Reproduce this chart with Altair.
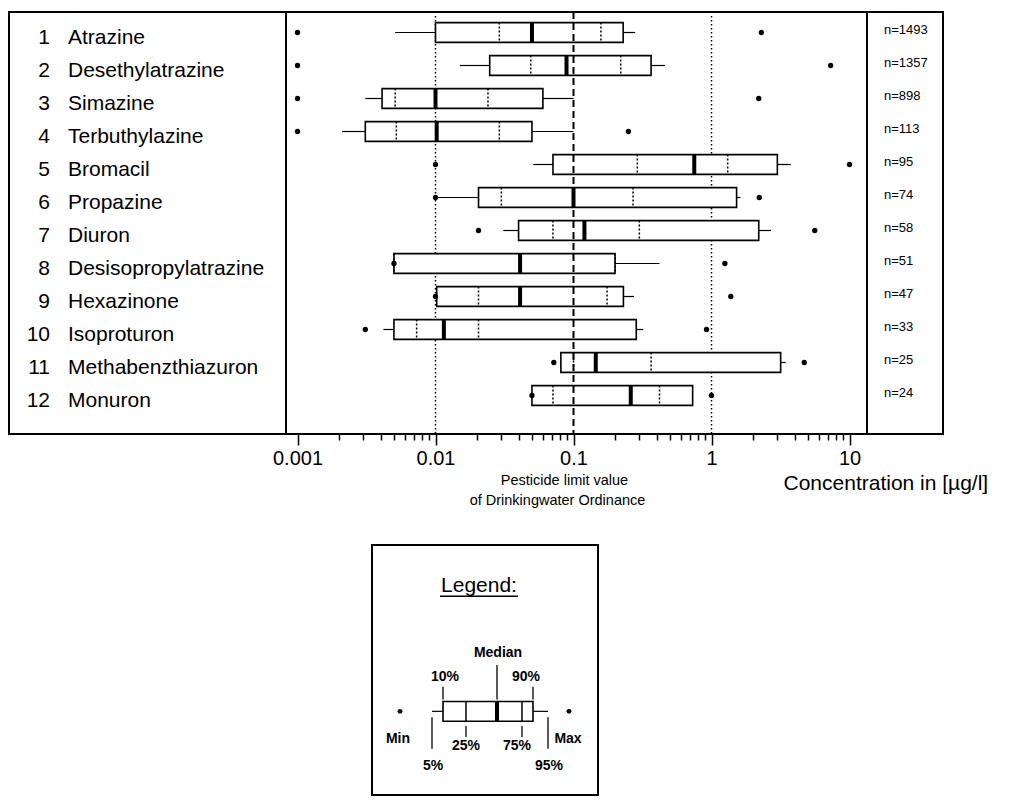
import altair as alt
import pandas as pd

FONT = "Liberation Sans"

# ---------------- data ----------------
row_no = list(range(1, 13))
names = ["Atrazine", "Desethylatrazine", "Simazine", "Terbuthylazine", "Bromacil",
         "Propazine", "Diuron", "Desisopropylatrazine", "Hexazinone", "Isoproturon",
         "Methabenzthiazuron", "Monuron"]
n_samples = [1493, 1357, 898, 113, 95, 74, 58, 51, 47, 33, 25, 24]
v_min = [0.001, 0.001, 0.001, 0.001, 0.01, 0.01, 0.0205, 0.005, 0.01, 0.0031, 0.072, 0.05]
p05 = [0.0051, 0.015, 0.0031, 0.0021, 0.051, 0.01, 0.031, 0.005, 0.01, 0.0042, 0.08, 0.05]
p10 = [0.01, 0.0247, 0.0041, 0.0031, 0.071, 0.0205, 0.040, 0.005, 0.0102, 0.005, 0.081, 0.05]
p25 = [0.029, 0.049, 0.0051, 0.0052, 0.29, 0.030, 0.071, 0.005, 0.0205, 0.0073, 0.1, 0.071]
p50 = [0.05, 0.089, 0.01, 0.0102, 0.75, 0.1, 0.12, 0.041, 0.041, 0.0115, 0.145, 0.26]
p75 = [0.158, 0.22, 0.024, 0.029, 1.31, 0.27, 0.30, 0.20, 0.175, 0.0205, 0.365, 0.42]
p90 = [0.229, 0.365, 0.06, 0.05, 3.0, 1.52, 2.2, 0.20, 0.23, 0.285, 3.17, 0.73]
p95 = [0.28, 0.46, 0.1, 0.1, 3.75, 1.62, 2.7, 0.42, 0.275, 0.32, 3.45, 0.73]
v_max = [2.3, 7.3, 2.2, 0.25, 10.0, 2.22, 5.6, 1.25, 1.38, 0.92, 4.7, 1.0]

limit_value = [0.1]
guide_values = [0.01, 1.0]
axis_range = [0.001, 10.0]
note_lines = ["Pesticide limit value", "of Drinkingwater Ordinance"]
x_title = "Concentration in [µg/l]"

# legend schematic (positions along the schematic box, in legend units)
legend_keys = ["vmin", "p05", "p10", "p25", "p50", "p75", "p90", "p95", "vmax"]
legend_pos = [28, 60, 71, 94, 125, 150, 161, 176, 197]
legend_labels = ["Median", "10%", "90%", "25%", "75%", "Min", "Max", "5%", "95%"]
legend_label_x = [126, 73, 154, 94, 145, 26, 196, 61, 177]
legend_label_y = [110, 134, 134, 204, 204, 197, 197, 225, 225]
leader_x = [125, 71, 161, 94, 150, 60, 176]
leader_y1 = [122, 144, 144, 184, 184, 175, 175]
leader_y2 = [157, 157, 157, 195, 195, 207, 207]

# ---------------- geometry ----------------
NAMES_W, MAIN_W, N_W, TOP_H = 277, 581, 76, 422
DEC_PX = 138.0
X0_OFF = 11.5
lo_log = -3 - X0_OFF / DEC_PX
hi_log = lo_log + MAIN_W / DEC_PX
XS = alt.Scale(type="log", domain=[10 ** lo_log, 10 ** hi_log], nice=False)
ROW_PX, ROW1_Y = 33.0, 20.5
y_lo = 1 - ROW1_Y / ROW_PX
y_hi = y_lo + TOP_H / ROW_PX
YS = alt.Scale(domain=[y_lo, y_hi], reverse=True, nice=False, zero=False)

tick_values = [round(k * 10 ** e, 6) for e in range(-3, 1) for k in range(1, 10)] + [10.0]
decade = "abs(log(datum.value)/LN10 - round(log(datum.value)/LN10)) < 1e-6"
AXIS = alt.Axis(
    values=tick_values,
    labelExpr=f"({decade}) ? format(datum.value, '~g') : ''",
    tickSize={"condition": {"test": decade, "value": 11}, "value": 6},
    tickColor="black", tickWidth=1.5, domain=False, grid=False,
    labelFont=FONT, labelFontSize=20, labelColor="black", labelPadding=3,
    labelOverlap=False, labelFlush=False, labelBound=False,
    title=x_title, titleFont=FONT, titleFontSize=21, titleFontWeight="normal",
    titleColor="black", titleAlign="left", titleBaseline="middle",
    titleX=497, titleY=49,
)

df = pd.DataFrame({
    "row": row_no, "name": names, "num": [str(i) for i in row_no], "n": n_samples,
    "vmin": v_min, "p05": p05, "p10": p10, "p25": p25, "p50": p50,
    "p75": p75, "p90": p90, "p95": p95, "vmax": v_max,
})


def X(f):
    return alt.X(f"{f}:Q", scale=XS, axis=AXIS)


Yrow = alt.Y("row:Q", scale=YS, axis=None)
Ylo = alt.Y("lo:Q", scale=YS, axis=None)
Yhi = alt.Y2("hi:Q")

base = alt.Chart(df).transform_calculate(lo="datum.row - 0.3", hi="datum.row + 0.3")

guides = alt.Chart(pd.DataFrame({"v": guide_values})).mark_rule(
    color="black", strokeWidth=1.5, strokeDash=[1.5, 2.5]
).encode(x=X("v"), y=alt.value(4), y2=alt.value(TOP_H))

whisk_lo = base.mark_rule(color="black", strokeWidth=1.2).encode(x=X("p05"), x2=alt.X2("p10"), y=Yrow)
whisk_hi = base.mark_rule(color="black", strokeWidth=1.2).encode(x=X("p90"), x2=alt.X2("p95"), y=Yrow)
boxes = base.mark_rect(fill="white", stroke="black", strokeWidth=1.6).encode(
    x=X("p10"), x2=alt.X2("p90"), y=Ylo, y2=Yhi)
q25 = base.mark_rule(color="black", strokeWidth=1.5, strokeDash=[2, 2]).encode(x=X("p25"), y=Ylo, y2=Yhi)
q75 = base.mark_rule(color="black", strokeWidth=1.5, strokeDash=[2, 2]).encode(x=X("p75"), y=Ylo, y2=Yhi)
limit = alt.Chart(pd.DataFrame({"v": limit_value})).mark_rule(
    color="black", strokeWidth=2, strokeDash=[7, 4]).encode(x=X("v"))
median = base.mark_rule(color="black", strokeWidth=4).encode(x=X("p50"), y=Ylo, y2=Yhi)
pmin = base.mark_point(filled=True, color="black", size=28, opacity=1).encode(x=X("vmin"), y=Yrow)
pmax = base.mark_point(filled=True, color="black", size=28, opacity=1).encode(x=X("vmax"), y=Yrow)
axis_line = alt.Chart(pd.DataFrame({"a": [axis_range[0]], "b": [axis_range[1]]})).mark_rule(
    color="black", strokeWidth=1.6).encode(x=X("a"), x2=alt.X2("b"), y=alt.value(TOP_H))
note1 = alt.Chart(pd.DataFrame({"v": limit_value})).mark_text(
    text=note_lines[0], font=FONT, fontSize=14.5, color="black", align="center",
    baseline="middle", dx=-9).encode(x=X("v"), y=alt.value(469))
note2 = alt.Chart(pd.DataFrame({"v": limit_value})).mark_text(
    text=note_lines[1], font=FONT, fontSize=14.5, color="black", align="center",
    baseline="middle", dx=-16).encode(x=X("v"), y=alt.value(489))

main = alt.layer(guides, whisk_lo, whisk_hi, boxes, q25, q75, limit, median,
                 pmin, pmax, axis_line, note1, note2).properties(width=MAIN_W, height=TOP_H)

# ---------------- side panels ----------------
nums = alt.Chart(df).mark_text(font=FONT, fontSize=21, color="black", align="right",
                               baseline="middle", dy=5).encode(
    x=alt.value(41), y=Yrow, text="num:N")
labs = alt.Chart(df).mark_text(font=FONT, fontSize=21, color="black", align="left",
                               baseline="middle", dy=5).encode(
    x=alt.value(59), y=Yrow, text="name:N")
names_panel = alt.layer(nums, labs).properties(width=NAMES_W, height=TOP_H)

n_panel = alt.Chart(df).transform_calculate(nlab="'n=' + datum.n").mark_text(
    font=FONT, fontSize=13, color="black", align="left", baseline="middle", dy=-3
).encode(x=alt.value(17), y=Yrow, text="nlab:N").properties(width=N_W, height=TOP_H)

# ---------------- legend ----------------
LEG_W, LEG_H = 226, 250
LXS = alt.Scale(domain=[0, LEG_W], nice=False, zero=False)
LYS = alt.Scale(domain=[0, 254], reverse=True, nice=False, zero=False)
leg_df = pd.DataFrame({k: [v] for k, v in zip(legend_keys, legend_pos)})
leg_df["yc"], leg_df["ylo"], leg_df["yhi"] = 169, 159, 179
lb = alt.Chart(leg_df)


def LX(f):
    return alt.X(f"{f}:Q", scale=LXS, axis=None)


LYc = alt.Y("yc:Q", scale=LYS, axis=None)
LYlo = alt.Y("ylo:Q", scale=LYS, axis=None)
LYhi = alt.Y2("yhi:Q")

l_w1 = lb.mark_rule(color="black", strokeWidth=1.2).encode(x=LX("p05"), x2=alt.X2("p10"), y=LYc)
l_w2 = lb.mark_rule(color="black", strokeWidth=1.2).encode(x=LX("p90"), x2=alt.X2("p95"), y=LYc)
l_box = lb.mark_rect(fill="white", stroke="black", strokeWidth=1.6).encode(
    x=LX("p10"), x2=alt.X2("p90"), y=LYlo, y2=LYhi)
l_q25 = lb.mark_rule(color="black", strokeWidth=1.5).encode(x=LX("p25"), y=LYlo, y2=LYhi)
l_q75 = lb.mark_rule(color="black", strokeWidth=1.5).encode(x=LX("p75"), y=LYlo, y2=LYhi)
l_med = lb.mark_rule(color="black", strokeWidth=4).encode(x=LX("p50"), y=LYlo, y2=LYhi)
l_min = lb.mark_point(filled=True, color="black", size=24, opacity=1).encode(x=LX("vmin"), y=LYc)
l_max = lb.mark_point(filled=True, color="black", size=24, opacity=1).encode(x=LX("vmax"), y=LYc)
lead_df = pd.DataFrame({"x": leader_x, "y1": leader_y1, "y2": leader_y2})
l_lead = alt.Chart(lead_df).mark_rule(color="black", strokeWidth=1.3).encode(
    x=LX("x"), y=alt.Y("y1:Q", scale=LYS, axis=None), y2=alt.Y2("y2:Q"))
lab_df = pd.DataFrame({"t": legend_labels, "x": legend_label_x, "y": legend_label_y})
l_labs = alt.Chart(lab_df).mark_text(font=FONT, fontSize=14, fontWeight="bold", color="black",
                                     align="center", baseline="middle").encode(
    x=LX("x"), y=alt.Y("y:Q", scale=LYS, axis=None), text="t:N")
title_df = pd.DataFrame({"t": ["Legend:"], "x": [107], "y": [42], "u1": [68], "u2": [146], "uy": [52]})
l_title = alt.Chart(title_df).mark_text(font=FONT, fontSize=21, color="black", align="center",
                                        baseline="middle").encode(
    x=LX("x"), y=alt.Y("y:Q", scale=LYS, axis=None), text="t:N")
l_under = alt.Chart(title_df).mark_rule(color="black", strokeWidth=1.5).encode(
    x=LX("u1"), x2=alt.X2("u2"), y=alt.Y("uy:Q", scale=LYS, axis=None))

legend = alt.layer(l_w1, l_w2, l_box, l_q25, l_q75, l_med, l_min, l_max, l_lead, l_labs,
                   l_title, l_under).properties(width=LEG_W, height=LEG_H)

spacer = alt.Chart(pd.DataFrame({"a": [0]})).mark_text(text=" ", opacity=0).encode(
    x=alt.value(100), y=alt.value(100)
).properties(width=363, height=LEG_H, view=alt.ViewBackground(stroke="transparent"))

top = alt.hconcat(names_panel, main, n_panel, spacing=0, bounds="flush")
bottom = alt.hconcat(spacer, legend, spacing=0, bounds="flush")

# with flush bounds a nested concat counts as zero height, so the spacing
# spans the top row's height plus the gap above the legend
chart = alt.vconcat(top, bottom, spacing=TOP_H + 111, bounds="flush").properties(
    padding={"left": 0, "top": 2, "right": 0, "bottom": 0}
).configure(font=FONT).configure_view(stroke="black", strokeWidth=2)

chart.save("out.html", embed_options={"renderer": "svg", "actions": False})
